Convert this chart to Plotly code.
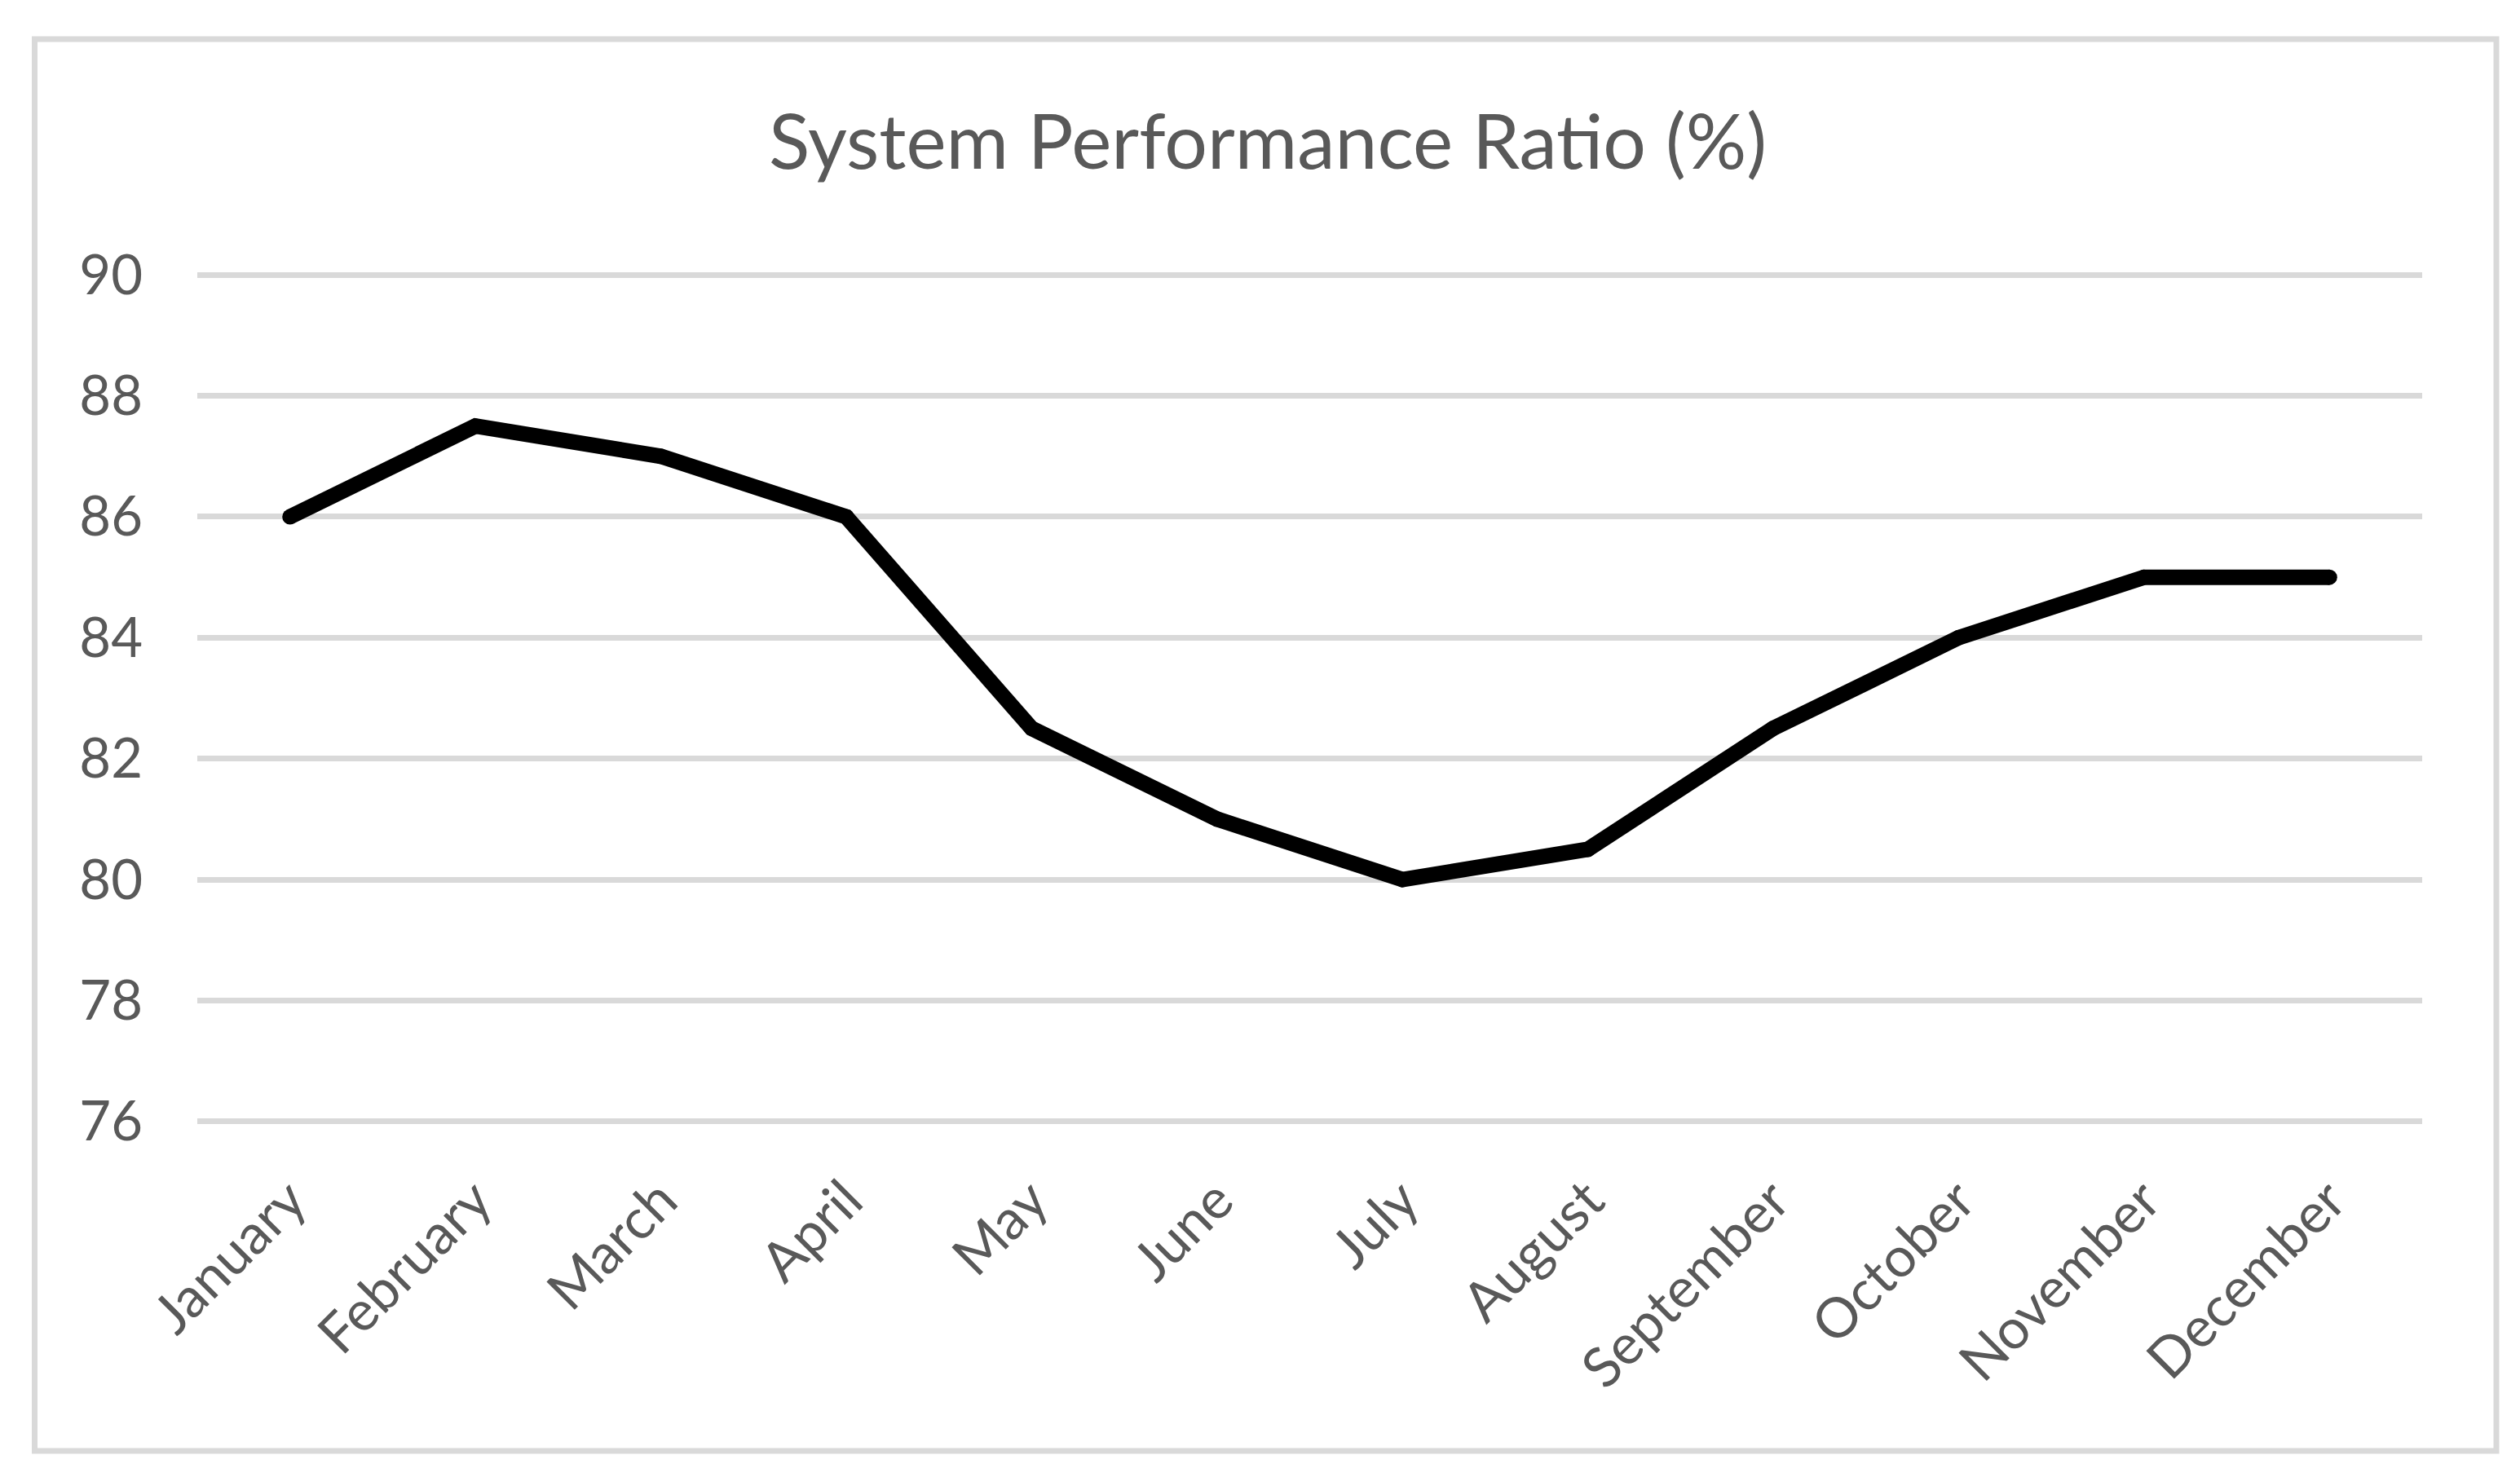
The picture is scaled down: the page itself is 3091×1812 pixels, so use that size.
import plotly.graph_objects as go

months = ["January", "February", "March", "April", "May", "June", "July",
          "August", "September", "October", "November", "December"]
performance_ratio = [86, 87.5, 87, 86, 82.5, 81, 80, 80.5, 82.5, 84, 85, 85]
y_ticks = [76, 78, 80, 82, 84, 86, 88, 90]
title_text = "System Performance Ratio (%)"

W, H = 3091, 1812
ML, MR, MT, MB = 234, 128, 327, 442
PW, PH = W - ML - MR, H - MT - MB

FONT = "Lato"
GREY_TXT = "#595959"
GRID = "#D9D9D9"

fig = go.Figure()
fig.add_trace(go.Scatter(
    x=months, y=performance_ratio, mode="lines+markers",
    line=dict(color="black", width=19),
    marker=dict(color="black", size=19, line=dict(width=0)),
    showlegend=False, hoverinfo="skip",
))

def px_x(p):
    return (p - ML) / PW

def px_y(p):
    return (H - MB - p) / PH

fig.add_shape(type="rect", xref="paper", yref="paper",
              x0=px_x(34.5), x1=px_x(3054), y0=px_y(1772), y1=px_y(40),
              line=dict(color=GRID, width=7), fillcolor="rgba(0,0,0,0)", layer="below")

fig.update_layout(
    width=W, height=H,
    margin=dict(l=ML, r=MR, t=MT, b=MB, autoexpand=False),
    paper_bgcolor="white", plot_bgcolor="white",
    title=dict(text=title_text, x=1547 / W, xanchor="center",
               y=1 - 166 / H, yanchor="middle", yref="container",
               font=dict(family=FONT, size=93, color=GREY_TXT)),
    font=dict(family=FONT, color=GREY_TXT),
)
fig.update_xaxes(
    type="category", range=[-0.5, 11.5], showgrid=False, zeroline=False,
    showline=False, ticks="", tickangle=-45, ticklabelstandoff=40,
    tickfont=dict(family=FONT, size=68, color=GREY_TXT),
)
fig.update_yaxes(
    range=[75.97, 90.03], tickvals=y_ticks, showgrid=True, gridcolor=GRID, gridwidth=7,
    zeroline=False, showline=False, ticks="", ticklabelstandoff=66,
    tickfont=dict(family=FONT, size=67, color=GREY_TXT),
)

fig.write_html("out.html")
